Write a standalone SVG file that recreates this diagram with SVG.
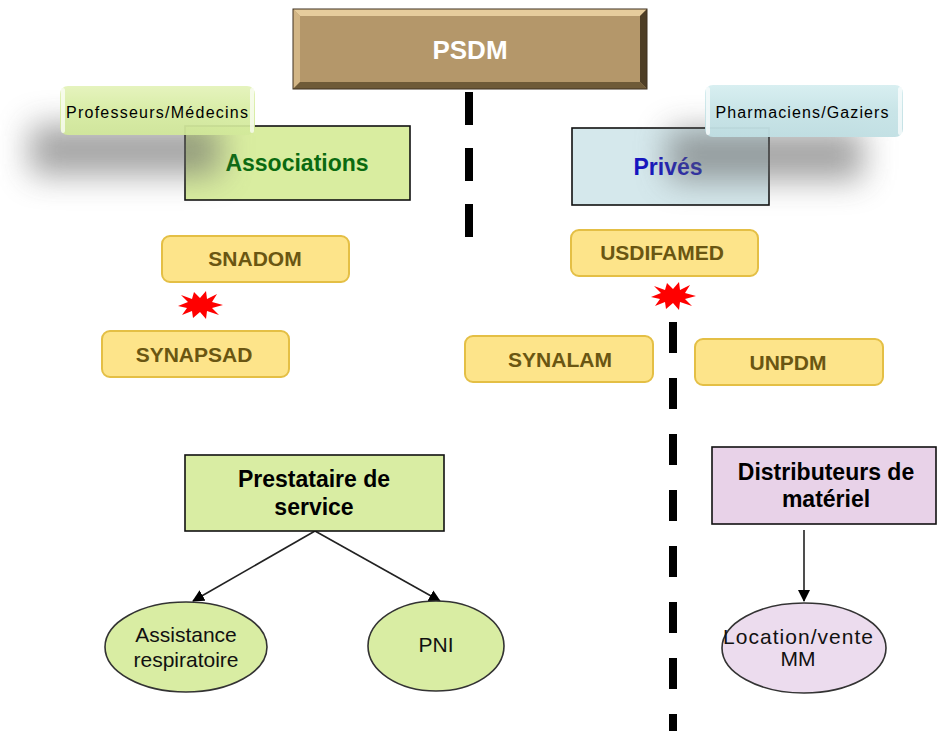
<svg xmlns="http://www.w3.org/2000/svg" width="938" height="731" viewBox="0 0 938 731">
<defs>
<style>
.b{font-family:"Liberation Sans",Arial,sans-serif;font-weight:bold;text-anchor:middle}
.r{font-family:"Liberation Sans",Arial,sans-serif;text-anchor:middle}
.yel rect{fill:#fde48a;stroke:#e4bf45;stroke-width:2}
.yel text{fill:#6a5612;font-size:21px}
.dash{stroke:#000;stroke-width:8;fill:none}
.conn{stroke:#222;stroke-width:1.6;fill:none}
.burst{fill:#ff0000}
</style>
<filter id="blur" x="-50%" y="-100%" width="200%" height="300%"><feGaussianBlur stdDeviation="16"/></filter>
<linearGradient id="gGreen" x1="0" y1="0" x2="0" y2="1"><stop offset="0" stop-color="#e3f2b8"/><stop offset="0.5" stop-color="#d6eca0"/><stop offset="1" stop-color="#d2e99a"/></linearGradient>
<linearGradient id="gBlue" x1="0" y1="0" x2="0" y2="1"><stop offset="0" stop-color="#d6eef0"/><stop offset="0.5" stop-color="#c6e3e6"/><stop offset="1" stop-color="#c0dfe3"/></linearGradient>
<marker id="arr" viewBox="0 0 12 12" refX="11" refY="6" markerWidth="12" markerHeight="12" markerUnits="userSpaceOnUse" orient="auto"><path d="M0,0 L12,6 L0,12 Z" fill="#000"/></marker>
</defs>
<rect width="938" height="731" fill="#fff"/>

<g id="connectors">
<line class="dash" x1="469" y1="92" x2="469" y2="237" stroke-dasharray="33 23"/>
<line class="dash" x1="673" y1="322" x2="673" y2="731" stroke-dasharray="31 25"/>
<line class="conn" x1="315" y1="531" x2="193" y2="601" marker-end="url(#arr)"/>
<line class="conn" x1="315" y1="531" x2="440" y2="601" marker-end="url(#arr)"/>
<line class="conn" x1="804" y1="530" x2="804" y2="601" marker-end="url(#arr)"/>
</g>

<g id="psdm">
<rect x="293" y="9" width="354" height="80" fill="#b4976a"/>
<polygon points="293,9 647,9 640,16 300,16" fill="#e6cc9c"/>
<polygon points="293,9 300,16 300,82 293,89" fill="#d2b585"/>
<polygon points="647,9 647,89 640,82 640,16" fill="#4e3e26"/>
<polygon points="293,89 647,89 640,82 300,82" fill="#6e5a38"/>
<rect x="293" y="9" width="354" height="80" fill="none" stroke="#3e3020" stroke-width="1"/>
<text class="b" x="470" y="59" font-size="26" fill="#fff">PSDM</text>
</g>

<g id="associations">
<rect x="185" y="126" width="225" height="74" fill="#d9eda0" stroke="#111" stroke-width="1.6"/>
<text class="b" x="297" y="171" font-size="23" fill="#0a6a10">Associations</text>
</g>

<g id="prives">
<rect x="572" y="128" width="197" height="77" fill="#d5e8ec" stroke="#111" stroke-width="1.6"/>
<text class="b" x="668" y="175" font-size="23" fill="#1414c0">Privés</text>
</g>

<g id="shadows">
<rect x="30" y="125" width="190" height="50" fill="#666" opacity="0.6" filter="url(#blur)"/>
<rect x="668" y="130" width="195" height="50" fill="#666" opacity="0.6" filter="url(#blur)"/>
</g>

<g id="professeurs">
<rect x="60" y="86" width="195" height="49" rx="8" fill="url(#gGreen)" opacity="0.92"/>
<rect x="61" y="88" width="4" height="45" rx="2" fill="#fff" opacity="0.7"/>
<rect x="250" y="88" width="4" height="45" rx="2" fill="#fff" opacity="0.7"/>
<text class="r" x="157" y="118" font-size="16" fill="#000" textLength="182">Professeurs/Médecins</text>
</g>

<g id="pharmaciens">
<rect x="705" y="85" width="198" height="52" rx="8" fill="url(#gBlue)" opacity="0.95"/>
<rect x="706" y="87" width="4" height="48" rx="2" fill="#fff" opacity="0.7"/>
<rect x="898" y="87" width="4" height="48" rx="2" fill="#fff" opacity="0.7"/>
<text class="r" x="802" y="118" font-size="16" fill="#000" textLength="173">Pharmaciens/Gaziers</text>
</g>

<g id="snadom" class="yel">
<rect x="162" y="236" width="187" height="46" rx="8"/>
<text class="b" x="255" y="266">SNADOM</text>
</g>
<g id="synapsad" class="yel">
<rect x="102" y="331" width="187" height="46" rx="8"/>
<text class="b" x="194" y="362">SYNAPSAD</text>
</g>
<g id="usdifamed" class="yel">
<rect x="571" y="230" width="187" height="46" rx="8"/>
<text class="b" x="662" y="260">USDIFAMED</text>
</g>
<g id="synalam" class="yel">
<rect x="465" y="336" width="188" height="46" rx="8"/>
<text class="b" x="560" y="367">SYNALAM</text>
</g>
<g id="unpdm" class="yel">
<rect x="695" y="339" width="188" height="46" rx="8"/>
<text class="b" x="788" y="370">UNPDM</text>
</g>

<g id="burst1">
<polygon class="burst" points="223,305 212,308 219,315 207,311 206,319 200,312 193,318 192,311 182,315 187,308 178,306 188,302 181,295 192,299 194,292 200,298 206,291 207,299 217,294 212,302"/>
</g>
<g id="burst2">
<polygon class="burst" points="696,296 685,299 692,306 680,302 679,310 673,303 666,309 665,302 655,306 660,299 651,297 661,293 654,286 665,290 667,283 673,289 679,282 680,290 690,285 685,293"/>
</g>

<g id="prestataire">
<rect x="185" y="455" width="259" height="76" fill="#d9eda3" stroke="#111" stroke-width="1.6"/>
<text class="b" x="314" y="487" font-size="23" fill="#000">Prestataire de</text>
<text class="b" x="314" y="515" font-size="23" fill="#000">service</text>
</g>

<g id="distributeurs">
<rect x="712" y="447" width="224" height="77" fill="#e8d2e8" stroke="#111" stroke-width="1.6"/>
<text class="b" x="826" y="480" font-size="23" fill="#000">Distributeurs de</text>
<text class="b" x="826" y="507" font-size="23" fill="#000">matériel</text>
</g>

<g id="assistance">
<ellipse cx="186" cy="647" rx="81" ry="45" fill="#d9eda3" stroke="#333" stroke-width="1.6"/>
<text class="r" x="186" y="642" font-size="21" fill="#111">Assistance</text>
<text class="r" x="186" y="667" font-size="21" fill="#111">respiratoire</text>
</g>

<g id="pni">
<ellipse cx="436" cy="646" rx="68" ry="45" fill="#d9eda3" stroke="#333" stroke-width="1.6"/>
<text class="r" x="436" y="652" font-size="21" fill="#111">PNI</text>
</g>

<g id="location">
<ellipse cx="804" cy="648" rx="82" ry="45" fill="#ecdcee" stroke="#333" stroke-width="1.6"/>
<text class="r" x="798" y="644" font-size="21" fill="#111" textLength="150">Location/vente</text>
<text class="r" x="798" y="666" font-size="21" fill="#111">MM</text>
</g>
</svg>
